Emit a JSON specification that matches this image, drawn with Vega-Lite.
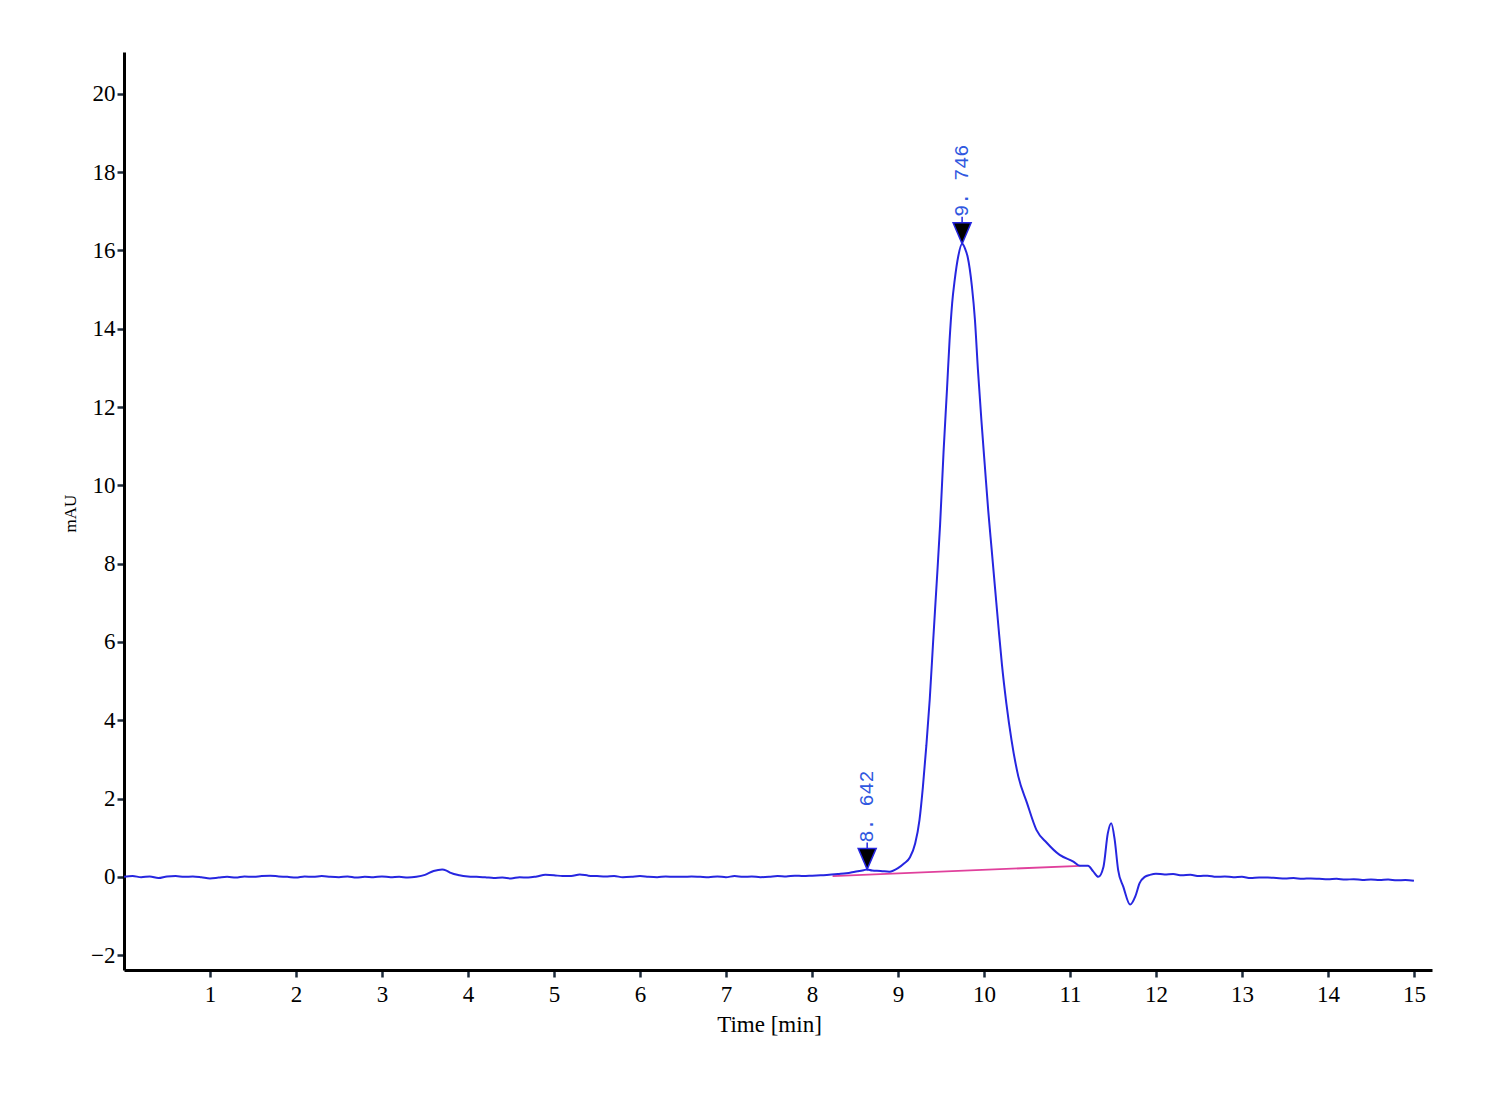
{
  "$schema": "https://vega.github.io/schema/vega-lite/v6.json",
  "width": 1308,
  "height": 918,
  "autosize": {"type": "none"},
  "padding": {"left": 124, "top": 52, "right": 68, "bottom": 130},
  "background": "white",
  "config": {
    "view": {"stroke": null},
    "axis": {
      "grid": false,
      "domainColor": "black",
      "domainWidth": 3,
      "tickColor": "#1c2a3a",
      "tickWidth": 2.5,
      "tickSize": 7,
      "labelFont": "Liberation Serif",
      "labelFontSize": 23,
      "labelColor": "black",
      "titleFont": "Liberation Serif",
      "titleFontWeight": "normal",
      "titleColor": "black"
    }
  },
  "datasets": {
    "trace": [
      {"t":0.00,"v":0.00},{"t":0.10,"v":0.02},{"t":0.20,"v":-0.01},{"t":0.30,"v":0.01},{"t":0.40,"v":-0.03},
      {"t":0.50,"v":0.01},{"t":0.60,"v":0.02},{"t":0.70,"v":0.00},{"t":0.80,"v":0.01},{"t":0.90,"v":-0.01},
      {"t":1.00,"v":-0.04},{"t":1.10,"v":-0.02},{"t":1.20,"v":0.00},{"t":1.30,"v":-0.02},{"t":1.40,"v":0.01},
      {"t":1.50,"v":0.00},{"t":1.60,"v":0.02},{"t":1.70,"v":0.03},{"t":1.80,"v":0.01},{"t":1.90,"v":0.00},
      {"t":2.00,"v":-0.02},{"t":2.10,"v":0.01},{"t":2.20,"v":0.00},{"t":2.30,"v":0.02},{"t":2.40,"v":0.00},
      {"t":2.50,"v":-0.01},{"t":2.60,"v":0.01},{"t":2.70,"v":-0.02},{"t":2.80,"v":0.00},{"t":2.90,"v":-0.01},
      {"t":3.00,"v":0.01},{"t":3.10,"v":-0.01},{"t":3.20,"v":0.00},{"t":3.30,"v":-0.02},{"t":3.40,"v":0.00},
      {"t":3.50,"v":0.05},{"t":3.60,"v":0.15},{"t":3.70,"v":0.19},{"t":3.75,"v":0.16},{"t":3.80,"v":0.10},
      {"t":3.90,"v":0.04},{"t":4.00,"v":0.01},{"t":4.10,"v":0.00},{"t":4.20,"v":-0.01},{"t":4.30,"v":-0.03},
      {"t":4.40,"v":-0.02},{"t":4.50,"v":-0.04},{"t":4.60,"v":-0.01},{"t":4.70,"v":-0.02},{"t":4.80,"v":0.01},
      {"t":4.90,"v":0.05},{"t":5.00,"v":0.04},{"t":5.10,"v":0.02},{"t":5.20,"v":0.02},{"t":5.30,"v":0.06},
      {"t":5.40,"v":0.03},{"t":5.50,"v":0.02},{"t":5.60,"v":0.01},{"t":5.70,"v":0.02},{"t":5.80,"v":-0.01},
      {"t":5.90,"v":0.00},{"t":6.00,"v":0.02},{"t":6.10,"v":0.00},{"t":6.20,"v":-0.01},{"t":6.30,"v":0.01},
      {"t":6.40,"v":0.00},{"t":6.50,"v":0.00},{"t":6.60,"v":0.01},{"t":6.70,"v":0.00},{"t":6.80,"v":-0.01},
      {"t":6.90,"v":0.01},{"t":7.00,"v":-0.01},{"t":7.10,"v":0.02},{"t":7.20,"v":0.00},{"t":7.30,"v":0.01},
      {"t":7.40,"v":-0.01},{"t":7.50,"v":0.00},{"t":7.60,"v":0.02},{"t":7.70,"v":0.01},{"t":7.80,"v":0.03},
      {"t":7.90,"v":0.02},{"t":8.00,"v":0.03},{"t":8.10,"v":0.04},{"t":8.20,"v":0.05},{"t":8.30,"v":0.07},
      {"t":8.40,"v":0.09},{"t":8.50,"v":0.13},{"t":8.60,"v":0.17},{"t":8.642,"v":0.19},{"t":8.70,"v":0.16},
      {"t":8.80,"v":0.15},{"t":8.90,"v":0.13},{"t":9.00,"v":0.22},{"t":9.07,"v":0.34},{"t":9.14,"v":0.50},
      {"t":9.20,"v":0.85},{"t":9.25,"v":1.45},{"t":9.29,"v":2.30},{"t":9.33,"v":3.35},{"t":9.37,"v":4.55},
      {"t":9.41,"v":6.05},{"t":9.45,"v":7.50},{"t":9.49,"v":9.00},{"t":9.53,"v":10.85},{"t":9.57,"v":12.45},
      {"t":9.60,"v":13.70},{"t":9.63,"v":14.65},{"t":9.66,"v":15.25},{"t":9.70,"v":15.84},{"t":9.746,"v":16.17},
      {"t":9.78,"v":16.05},{"t":9.81,"v":15.84},{"t":9.86,"v":15.08},{"t":9.895,"v":14.23},{"t":9.93,"v":12.95},
      {"t":9.97,"v":11.67},{"t":10.01,"v":10.50},{"t":10.05,"v":9.35},{"t":10.09,"v":8.35},{"t":10.13,"v":7.35},
      {"t":10.17,"v":6.35},{"t":10.21,"v":5.40},{"t":10.26,"v":4.44},{"t":10.32,"v":3.50},{"t":10.40,"v":2.56},
      {"t":10.50,"v":1.89},{"t":10.61,"v":1.20},{"t":10.73,"v":0.87},{"t":10.88,"v":0.56},{"t":11.04,"v":0.39},
      {"t":11.12,"v":0.28},
      {"t":11.21,"v":0.28},{"t":11.27,"v":0.14},{"t":11.33,"v":0.00},{"t":11.39,"v":0.26},{"t":11.44,"v":1.11},
      {"t":11.48,"v":1.37},{"t":11.52,"v":0.95},{"t":11.56,"v":0.18},{"t":11.62,"v":-0.25},{"t":11.70,"v":-0.71},
      {"t":11.76,"v":-0.50},{"t":11.81,"v":-0.16},{"t":11.87,"v":0.00},{"t":11.93,"v":0.05},{"t":12.00,"v":0.08},
      {"t":12.10,"v":0.06},{"t":12.20,"v":0.07},{"t":12.30,"v":0.04},{"t":12.40,"v":0.05},{"t":12.50,"v":0.02},
      {"t":12.60,"v":0.03},{"t":12.70,"v":0.00},{"t":12.80,"v":0.01},{"t":12.90,"v":-0.01},{"t":13.00,"v":0.00},
      {"t":13.10,"v":-0.03},{"t":13.20,"v":-0.02},{"t":13.30,"v":-0.02},{"t":13.40,"v":-0.03},{"t":13.50,"v":-0.04},
      {"t":13.60,"v":-0.03},{"t":13.70,"v":-0.05},{"t":13.80,"v":-0.04},{"t":13.90,"v":-0.05},{"t":14.00,"v":-0.06},
      {"t":14.10,"v":-0.05},{"t":14.20,"v":-0.07},{"t":14.30,"v":-0.06},{"t":14.40,"v":-0.08},{"t":14.50,"v":-0.07},
      {"t":14.60,"v":-0.08},{"t":14.70,"v":-0.07},{"t":14.80,"v":-0.09},{"t":14.90,"v":-0.08},{"t":15.00,"v":-0.10}
    ],
    "baseline": [
      {"t": 8.24, "v": 0.02},
      {"t": 11.12, "v": 0.28}
    ],
    "peaks": [
      {"t": 8.642, "v": 0.19, "label": "8. 642"},
      {"t": 9.746, "v": 16.17, "label": "9. 746"}
    ]
  },
  "layer": [
    {
      "data": {"name": "baseline"},
      "mark": {"type": "line", "color": "#e0409c", "strokeWidth": 1.8},
      "encoding": {
        "x": {
          "field": "t", "type": "quantitative",
          "scale": {"domain": [0, 15.21], "nice": false, "zero": false},
          "axis": {
            "values": [1,2,3,4,5,6,7,8,9,10,11,12,13,14,15],
            "format": "d",
            "labelPadding": 6,
            "title": "Time [min]",
            "titleFontSize": 23,
            "titleX": 645,
            "titleY": 54,
            "titleAlign": "center",
            "titleBaseline": "middle"
          }
        },
        "y": {
          "field": "v", "type": "quantitative",
          "scale": {"domain": [-2.38, 21.07], "nice": false, "zero": false},
          "axis": {
            "values": [-2,0,2,4,6,8,10,12,14,16,18,20],
            "format": "d",
            "labelPadding": 2,
            "title": "mAU",
            "titleFontSize": 17,
            "titleAngle": 270,
            "titleX": -54,
            "titleY": 461,
            "titleAlign": "center",
            "titleBaseline": "middle"
          }
        }
      }
    },
    {
      "data": {"name": "trace"},
      "mark": {"type": "line", "color": "#2626e0", "strokeWidth": 2, "interpolate": "monotone"},
      "encoding": {
        "x": {"field": "t", "type": "quantitative"},
        "y": {"field": "v", "type": "quantitative"}
      }
    },
    {
      "data": {"name": "peaks"},
      "mark": {
        "type": "point",
        "shape": "M-0.9,-2.1L0.9,-2.1L0,0Z M0,-2.1L0,-2.7",
        "size": 400,
        "fill": "black",
        "stroke": "#2626e0",
        "strokeWidth": 1.5,
        "opacity": 1,
        "fillOpacity": 1
      },
      "encoding": {
        "x": {"field": "t", "type": "quantitative"},
        "y": {"field": "v", "type": "quantitative"}
      }
    },
    {
      "data": {"name": "peaks"},
      "mark": {
        "type": "text",
        "angle": 270,
        "align": "left",
        "baseline": "middle",
        "dx": 27,
        "font": "Liberation Mono",
        "fontSize": 20,
        "color": "#3058e0"
      },
      "encoding": {
        "x": {"field": "t", "type": "quantitative"},
        "y": {"field": "v", "type": "quantitative"},
        "text": {"field": "label"}
      }
    }
  ]
}
